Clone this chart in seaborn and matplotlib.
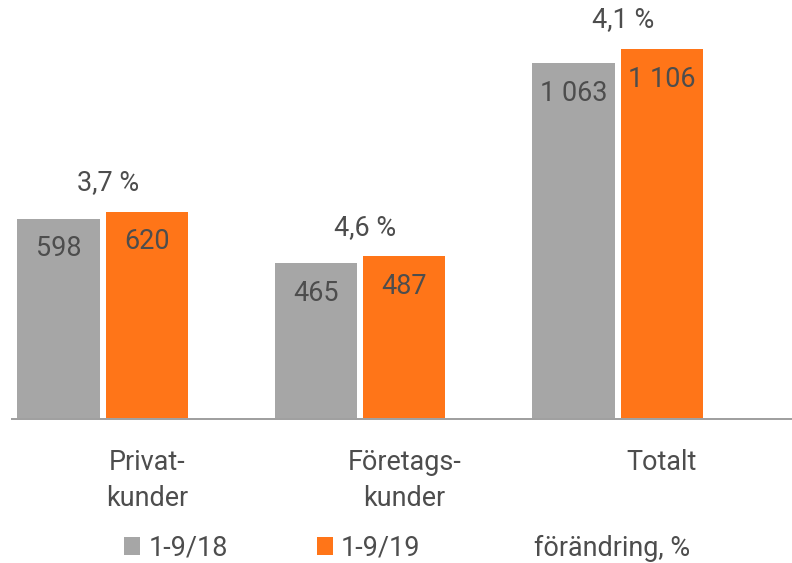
import matplotlib
matplotlib.use("Agg")
import matplotlib.pyplot as plt
from matplotlib.patches import Patch
import seaborn as sns
import pandas as pd

# Data
categories = ["Privat-\nkunder", "Företags-\nkunder", "Totalt"]
periods = ["1-9/18", "1-9/19"]
values_18 = [598, 465, 1063]
values_19 = [620, 487, 1106]
change_pct = ["3,7 %", "4,6 %", "4,1 %"]
change_label = "förändring, %"

GRAY = "#a6a6a6"
ORANGE = "#ff7518"
TEXT = "#4d4d4d"

sns.set_theme(style="white")
plt.rcParams["font.family"] = ["Roboto", "DejaVu Sans"]
plt.rcParams["font.weight"] = "normal"

df = pd.DataFrame({
    "kategori": categories * 2,
    "period": [periods[0]] * 3 + [periods[1]] * 3,
    "värde": values_18 + values_19,
})

W, H = 792, 563
fig = plt.figure(figsize=(W / 72, H / 72), dpi=72)
fig.patch.set_facecolor("white")

# axes: baseline at y=419 px, spans x 12..792 px
ax_left, ax_right = 12, 792
base_px = 419
ymax = 1220
px_per_unit = 0.3345
ax_h = ymax * px_per_unit
ax = fig.add_axes([ax_left / W, (H - base_px) / H, (ax_right - ax_left) / W, ax_h / H])

sns.barplot(data=df, x="kategori", y="värde", hue="period", hue_order=periods,
            palette=[GRAY, ORANGE], width=0.685, gap=0.068, saturation=1,
            legend=False, ax=ax, linewidth=0, edgecolor="none")

ax.set_xlim(-0.352, 2.677)
ax.set_ylim(0, ymax)
ax.set_xlabel("")
ax.set_ylabel("")
ax.set_yticks([])
ax.set_xticks([])
for s in ["top", "right", "left"]:
    ax.spines[s].set_visible(False)
ax.spines["bottom"].set_color("#a0a0a0")
ax.spines["bottom"].set_linewidth(2)

# value labels inside bars
for cont, vals in zip(ax.containers, [values_18, values_19]):
    for bar, v in zip(cont, vals):
        cx = bar.get_x() + bar.get_width() / 2
        ax.annotate(f"{v:,}".replace(",", " "), xy=(cx, v), xytext=(0, -30),
                    textcoords="offset points", ha="center", va="center",
                    fontsize=27, color=TEXT)

# percentage change above each group, category labels under the orange bars
orange_bars = list(ax.containers[1])
for i, (bar, pct, cat) in enumerate(zip(orange_bars, change_pct, categories)):
    top = max(values_18[i], values_19[i])
    ax.annotate(pct, xy=(i + 0.02, top), xytext=(0, 29), textcoords="offset points",
                ha="center", va="center", fontsize=27, color=TEXT)
    cx = bar.get_x() + bar.get_width() / 2
    ax.annotate(cat, xy=(cx, 0), xytext=(0, -30), textcoords="offset points",
                ha="center", va="top", fontsize=27, color=TEXT,
                linespacing=1.42, annotation_clip=False)

handles = [Patch(facecolor=GRAY, edgecolor="none"),
           Patch(facecolor=ORANGE, edgecolor="none"),
           Patch(facecolor="none", edgecolor="none")]
fig.legend(handles, periods + [change_label], loc="center left",
           bbox_to_anchor=(124 / W, (H - 548) / H), ncol=3, frameon=False,
           fontsize=27, handlelength=0.6, handleheight=0.6,
           handletextpad=0.3, columnspacing=3.3, borderpad=0,
           borderaxespad=0, labelcolor=TEXT)

fig.savefig("out.png", dpi=72, facecolor="white")
